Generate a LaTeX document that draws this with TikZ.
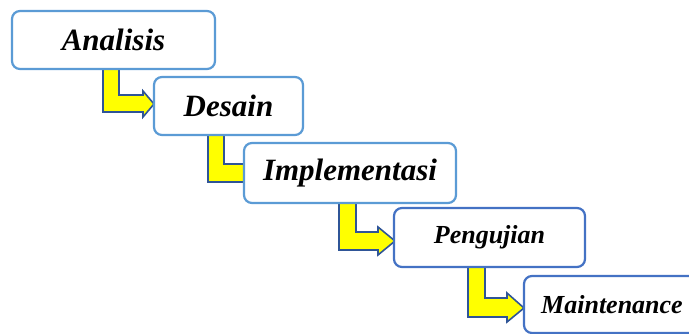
\documentclass[tikz,border=0pt]{standalone}
\usepackage{fontspec}
\setmainfont{Liberation Serif}
\definecolor{lblue}{HTML}{5B9BD5}
\definecolor{mblue}{HTML}{4472C4}
\definecolor{ablue}{HTML}{2F5597}
\definecolor{ayellow}{HTML}{FFFF00}
\begin{document}
\begin{tikzpicture}[x=1pt,y=-1pt,
  stagebox/.style={draw=lblue,line width=2.2pt,fill=white,rounded corners=8pt,
    inner sep=0pt,font=\fontsize{31}{31}\selectfont\bfseries\itshape},
  stageboxdark/.style={stagebox,draw=mblue,font=\fontsize{26}{26}\selectfont\bfseries\itshape},
  bentarrow/.style={fill=ayellow,draw=ablue,line width=1.6pt,line join=miter}]
\useasboundingbox (0,0) rectangle (689,334);
\begin{scope}
\clip (0,0) rectangle (689,334);
% arrows (behind boxes)
\draw[bentarrow] (103,68) -- (119,68) -- (119,95) -- (143,95) -- (143,91) -- (154,104)
  -- (143,117) -- (143,112) -- (103,112) -- cycle;
\draw[bentarrow] (208,133) -- (224,133) -- (224,164) -- (248,164) -- (248,160) -- (260,173)
  -- (248,186) -- (248,182) -- (208,182) -- cycle;
\draw[bentarrow] (339,201) -- (356,201) -- (356,232) -- (378,232) -- (378,227) -- (395,241)
  -- (378,255) -- (378,250) -- (339,250) -- cycle;
\draw[bentarrow] (468,265) -- (485,265) -- (485,298) -- (507,298) -- (507,293) -- (524,308)
  -- (507,322) -- (507,317) -- (468,317) -- cycle;
% boxes
\node[stagebox,minimum width=203pt,minimum height=58pt] (b1) at (113.5,40) {Analisis};
\node[stagebox,minimum width=149pt,minimum height=58pt] (b2) at (228.5,106) {Desain};
\node[stagebox,minimum width=212pt,minimum height=60pt] (b3) at (350,173) {Implementasi};
\node[stageboxdark,minimum width=191pt,minimum height=59pt] (b4) at (489.5,237.5) {Pengujian};
\node[stageboxdark,minimum width=176pt,minimum height=57pt] (b5) at (612,304.5) {Maintenance};
\end{scope}
\end{tikzpicture}
\end{document}
